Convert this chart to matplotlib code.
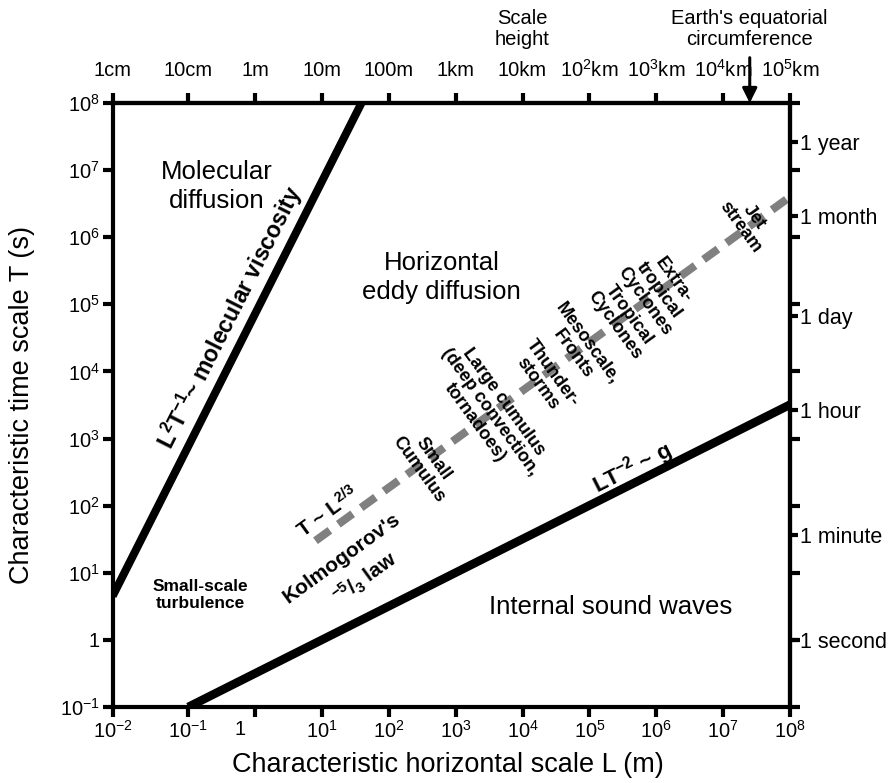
import matplotlib
matplotlib.use('Agg')
import matplotlib.pyplot as plt
import matplotlib.ticker as mtick
import matplotlib.transforms as mtrans

plt.rcParams['font.family'] = 'Liberation Sans'
plt.rcParams['mathtext.fontset'] = 'custom'
plt.rcParams['mathtext.rm'] = 'Liberation Sans'
plt.rcParams['mathtext.bf'] = 'Liberation Sans:bold'
plt.rcParams['mathtext.default'] = 'regular'

#-------------------------------------------------------------------------------
# axis ranges: horizontal scale L (m), time scale T (s)
L_MIN, L_MAX = 10**-2.13, 1e8
T_MIN, T_MAX = 1e-1, 1e8

L_ticks = [L_MIN, 1e-1, 1, 1e1, 1e2, 1e3, 1e4, 1e5, 1e6, 1e7, 1e8]
L_ticklabels = ['$10^{-2}$', '$10^{-1}$', '1', '$10^{1}$', '$10^{2}$', '$10^{3}$',
                '$10^{4}$', '$10^{5}$', '$10^{6}$', '$10^{7}$', '$10^{8}$']
top_ticks = [L_MIN, 1e-1, 1, 1e1, 1e2, 1e3, 1e4, 1e5, 1e6, 1e7, 1e8]
top_ticklabels = ['1cm', '10cm', '1m', '10m', '100m', '1km', '10km',
                  '$10^{2}$km', '$10^{3}$km', '$10^{4}$km', '$10^{5}$km']

T_ticks = [1e-1, 1, 1e1, 1e2, 1e3, 1e4, 1e5, 1e6, 1e7, 1e8]
T_ticklabels = ['$10^{-1}$', '1', '$10^{1}$', '$10^{2}$', '$10^{3}$', '$10^{4}$',
                '$10^{5}$', '$10^{6}$', '$10^{7}$', '$10^{8}$']
time_ticks = [1.0, 36, 2.7e3, 6.6e4, 2.1e6, 2.6e7]
time_labels = ['1 second', '1 minute', '1 hour', '1 day', '1 month', '1 year']

# regime boundaries
visc_L = [7.4e-3, 39]
visc_T = [4.5, 1e8]
grav_L = [0.1, 1e8]
grav_T = [0.1, 3.2e3]
kolm_L = [8, 1e8]
kolm_T = [30, 4e6]

# weather phenomena along the Kolmogorov line
phenomena = ['Small\nCumulus', 'Large cumulus\n(deep convection,\ntornadoes)',
             'Thunder-\nstorms', 'Mesoscale,\nFronts', 'Tropical\nCyclones',
             'Extra-\ntropical\nCyclones', 'Jet\nstream']
phen_L = [357, 3.2e3, 2.15e4, 7.2e4, 3.0e5, 1.1e6, 2.3e7]
phen_T = [417, 2.5e3, 7.9e3, 2.2e4, 5.9e4, 1.6e5, 1.7e6]

earth_circ = 2.5e7
scale_height = 1e4

#-------------------------------------------------------------------------------
fig = plt.figure(figsize=(8.94, 7.83), dpi=100)
ax = fig.add_axes([112.7/894, 1-707/783, (790-112.7)/894, (707-103)/783])
ax.set_xscale('log')
ax.set_yscale('log')
ax.set_xlim(L_MIN, L_MAX)
ax.set_ylim(T_MIN, T_MAX)

SPINE_W = 3.0
for s in ax.spines.values():
    s.set_linewidth(SPINE_W)

ax.set_xticks(L_ticks, labels=L_ticklabels)
ax.set_yticks(T_ticks, labels=T_ticklabels)
ax.xaxis.set_minor_locator(mtick.NullLocator())
ax.yaxis.set_minor_locator(mtick.NullLocator())
ax.tick_params(axis='both', which='major', length=7.2, width=SPINE_W,
               labelsize=14.5, pad=2)

# the "1" label sits a bit left of its tick
for lab in ax.get_xticklabels():
    if lab.get_text() == '1':
        lab.set_transform(lab.get_transform() +
                          mtrans.ScaledTranslation(-15/100, 0, fig.dpi_scale_trans))

# top axis in length units
top = ax.secondary_xaxis('top')
top.set_xticks(top_ticks, labels=top_ticklabels)
top.xaxis.set_minor_locator(mtick.NullLocator())
top.tick_params(which='major', length=7.2, width=SPINE_W, labelsize=14.5, pad=9)
top.spines['top'].set_linewidth(SPINE_W)

# right axis in time units
right = ax.secondary_yaxis('right')
right.yaxis.remove_overlapping_locs = False
right.set_yticks(T_ticks, labels=[''] * len(T_ticks))
right.set_yticks(time_ticks, labels=time_labels, minor=True)
right.tick_params(which='major', length=7.2, width=SPINE_W)
right.tick_params(which='minor', length=5.5, width=SPINE_W, labelsize=15.5, pad=2)
right.spines['right'].set_linewidth(SPINE_W)

# regime boundaries
ax.plot(visc_L, visc_T, color='k', lw=5.8, solid_capstyle='butt')
ax.plot(grav_L, grav_T, color='k', lw=6.2, solid_capstyle='butt')
ax.plot(kolm_L, kolm_T, color='#808080', lw=5.8, dashes=(2.2, 1.3),
        dash_capstyle='butt')

# region labels
ax.text(0.27, 5.7e6, 'Molecular\ndiffusion', ha='center', va='center',
        fontsize=18.5, linespacing=1.25)
ax.text(620, 2.5e5, 'Horizontal\neddy diffusion', ha='center', va='center',
        fontsize=18.5, linespacing=1.3)
ax.text(2.1e5, 3.1, 'Internal sound waves', ha='center', va='center', fontsize=18.5)
ax.text(0.15, 4.7, 'Small-scale\nturbulence', ha='center', va='center',
        fontsize=12.5, fontweight='bold', linespacing=1.15)

# line labels
ax.text(0.42, 6.3e4, 'L$^{2}$T$^{-1}$~ molecular viscosity', ha='center', va='center',
        rotation=63.2, rotation_mode='anchor', fontsize=16.5, fontweight='bold')
ax.text(4.3e5, 363, 'LT$^{-2}$ ~ g', ha='center', va='center',
        rotation=26.7, rotation_mode='anchor', fontsize=16, fontweight='bold')
ax.text(12.2, 80, 'T ~ L$^{2/3}$', ha='center', va='center',
        rotation=36, rotation_mode='anchor', fontsize=15, fontweight='bold')
ax.text(19.8, 16.6, "Kolmogorov's", ha='center', va='center',
        rotation=36, rotation_mode='anchor', fontsize=15, fontweight='bold')
ax.text(45, 8.3, '$^{-5}$/$_{3}$ law', ha='center', va='center',
        rotation=36, rotation_mode='anchor', fontsize=15, fontweight='bold')

for name, L, T in zip(phenomena, phen_L, phen_T):
    ax.text(L, T, name, ha='center', va='center', rotation=-54,
            rotation_mode='anchor', fontsize=13, fontweight='bold', linespacing=1.05)

# annotations above the top axis
blend = mtrans.blended_transform_factory(ax.transData, ax.transAxes)
ax.annotate('', xy=(earth_circ, 1.0), xycoords=blend,
            xytext=(earth_circ, 1.075), textcoords=blend,
            arrowprops=dict(arrowstyle='-|>', lw=2.2, color='k',
                            mutation_scale=22, shrinkA=0, shrinkB=0),
            annotation_clip=False)
ax.text(earth_circ, 1.1225, "Earth's equatorial\ncircumference", transform=blend,
        ha='center', va='center', fontsize=14.5, linespacing=1.1)
ax.text(scale_height, 1.1225, 'Scale\nheight', transform=blend,
        ha='center', va='center', fontsize=14.5, linespacing=1.1)

fig.text(0.501, 1-765/783, 'Characteristic horizontal scale L (m)',
         ha='center', va='center', fontsize=19.5)
fig.text(22/894, 1-405/783, 'Characteristic time scale T (s)',
         ha='center', va='center', rotation=90, fontsize=19.5)

fig.savefig('out.png', dpi=100)
